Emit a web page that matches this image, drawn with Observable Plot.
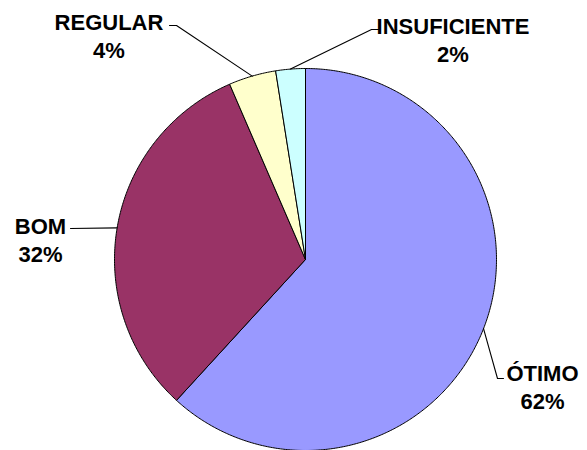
<!DOCTYPE html>
<html><head><meta charset="utf-8">
<script src="https://cdn.jsdelivr.net/npm/d3@7"></script>
<script src="https://cdn.jsdelivr.net/npm/@observablehq/plot@0.6"></script>
<style>body{margin:0;background:#fff}</style>
</head><body><div id="chart"></div>
<script>
// ---- data ----
const categories = ["ÓTIMO", "BOM", "REGULAR", "INSUFICIENTE"];
const values = [61.8, 31.7, 4.0, 2.5];
const percentLabels = ["62%", "32%", "4%", "2%"];
const colors = ["#9999FF", "#993366", "#FFFFCC", "#CCFFFF"];

// ---- layout (pixels) ----
const W = 587, H = 450, CX = 305, CY = 259, R = 191;
const FS = 22;
const labelLayout = [
  {tx: 542, ty: 377, ex: 497, ey: 378, fx: 503, fy: 378},
  {tx: 40, ty: 230, ex: 70, ey: 228, fx: 70, fy: 228},
  {tx: 108.5, ty: 26, ex: 176, ey: 25, fx: 169, fy: 25},
  {tx: 452.5, ty: 30, ex: 371, ey: 29, fx: 378, fy: 29}
];
const ux = px => (px - CX) / R;
const uy = py => (CY - py) / R;

const arcs = d3.pie().sort(null).value(d => d.value)(
  categories.map((c, i) => ({category: c, value: values[i], color: colors[i], pct: percentLabels[i], i}))
);

// slice polygons in unit coordinates
const slicePts = [];
for (const a of arcs) {
  const n = Math.max(2, Math.ceil((a.endAngle - a.startAngle) / (Math.PI / 360)));
  slicePts.push({k: a.data.category, c: a.data.color, x: 0, y: 0});
  for (let j = 0; j <= n; j++) {
    const t = a.startAngle + (a.endAngle - a.startAngle) * j / n;
    slicePts.push({k: a.data.category, c: a.data.color, x: Math.sin(t), y: Math.cos(t)});
  }
  slicePts.push({k: a.data.category, c: a.data.color, x: 0, y: 0});
}

// leader lines: from slice mid-angle on the rim to the label
const leaderPts = [];
arcs.forEach((a, i) => {
  const m = (a.startAngle + a.endAngle) / 2;
  const L = labelLayout[i];
  leaderPts.push({k: a.data.category, x: Math.sin(m), y: Math.cos(m)});
  leaderPts.push({k: a.data.category, x: ux(L.ex), y: uy(L.ey)});
  leaderPts.push({k: a.data.category, x: ux(L.fx), y: uy(L.fy)});
});

const labels = arcs.map((a, i) => ({
  text: a.data.category + "\n" + a.data.pct,
  x: ux(labelLayout[i].tx),
  y: uy(labelLayout[i].ty - 0.71 * FS)
}));

const chart = Plot.plot({
  width: W, height: H,
  margin: 0,
  style: {background: "#fff", overflow: "visible"},
  x: {domain: [-1, 1], range: [CX - R, CX + R], axis: null},
  y: {domain: [-1, 1], range: [CY + R, CY - R], axis: null},
  marks: [
    Plot.line(slicePts, {x: "x", y: "y", z: "k", fill: "c", stroke: "#000", strokeWidth: 1, curve: "linear"}),
    Plot.line(leaderPts, {x: "x", y: "y", z: "k", stroke: "#000", strokeWidth: 1.1}),
    Plot.text(labels, {x: "x", y: "y", text: "text", fontSize: FS, fontWeight: "bold",
      fontFamily: "'Liberation Sans', Arial, sans-serif", lineAnchor: "top", lineHeight: 1.25,
      textAnchor: "middle", fill: "#000"})
  ]
});
document.getElementById("chart").appendChild(chart);
</script>
</body></html>
